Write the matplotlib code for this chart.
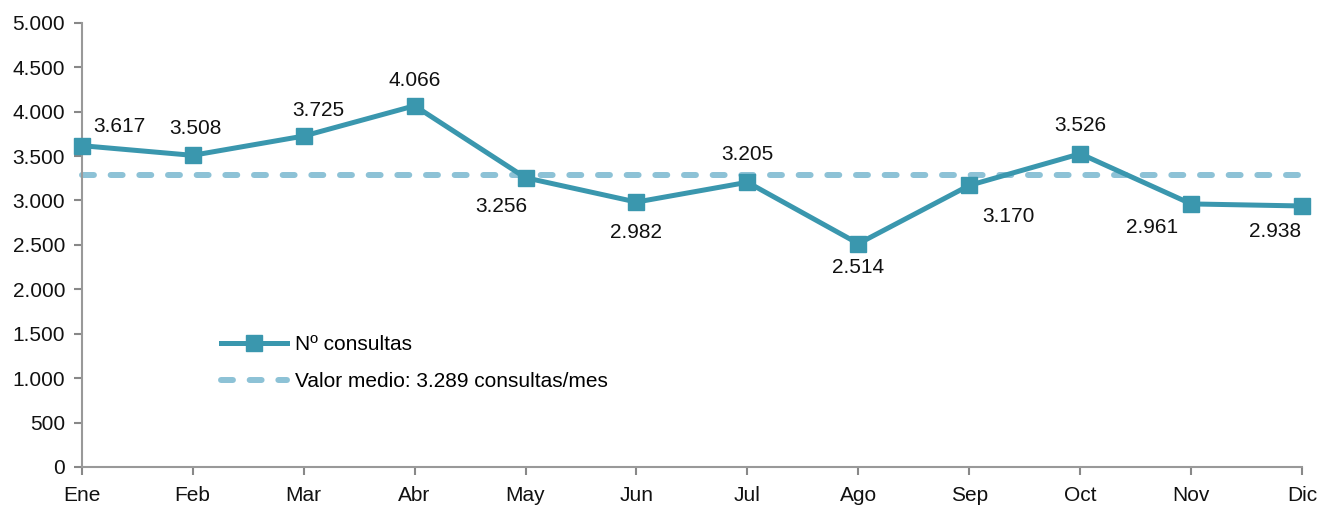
import matplotlib.pyplot as plt
from matplotlib.ticker import FuncFormatter

months = ['Ene', 'Feb', 'Mar', 'Abr', 'May', 'Jun', 'Jul', 'Ago', 'Sep', 'Oct', 'Nov', 'Dic']
consultas = [3617, 3508, 3725, 4066, 3256, 2982, 3205, 2514, 3170, 3526, 2961, 2938]
media = 3289
# label offsets in pixels relative to each point
label_dx = [38, 3, 15, 0, -24, 0, 0, 0, 39, 0, -39, -27]
label_dy = [19, 27, 26, 25, -29, -30, 28, -24, -31, 28, -24, -26]

line_col = '#3a97ae'
mean_col = '#8dc2d6'

plt.rcParams['font.family'] = ['Liberation Sans', 'DejaVu Sans']

fig, ax = plt.subplots(figsize=(13.18, 5.07), dpi=100)
fig.subplots_adjust(left=0.062, right=0.988, top=0.955, bottom=0.079)

x = list(range(len(months)))
ax.plot(x, [media] * len(x), color=mean_col, lw=4.3, dashes=(2.0, 2.8),
        dash_capstyle='round', label='Valor medio: 3.289 consultas/mes',
        zorder=2, clip_on=False)
ax.plot(x, consultas, color=line_col, lw=3.6, marker='s', markersize=11.5,
        label='Nº consultas', zorder=3, clip_on=False)

fmt = lambda v: f'{v:,}'.replace(',', '.')
for i, v in enumerate(consultas):
    ax.annotate(fmt(v), (i, v), xytext=(label_dx[i], label_dy[i]),
                textcoords='offset pixels', ha='center', va='center',
                fontsize=15, color='#111111')

ax.set_xlim(0, len(months) - 1)
ax.set_ylim(0, 5000)
ax.set_yticks(range(0, 5001, 500))
ax.yaxis.set_major_formatter(FuncFormatter(lambda v, p: fmt(int(v))))
ax.set_xticks(x)
ax.set_xticklabels(months)
ax.tick_params(axis='both', colors='#888888', labelcolor='#111111', labelsize=15,
               length=6, width=1.5)
ax.tick_params(axis='y', pad=6)
ax.tick_params(axis='x', pad=8)

for side in ['top', 'right']:
    ax.spines[side].set_visible(False)
for side in ['left', 'bottom']:
    ax.spines[side].set_color('#999999')
    ax.spines[side].set_linewidth(1.5)

h, l = ax.get_legend_handles_labels()
ax.legend(h[::-1], l[::-1], loc='upper left', bbox_to_anchor=(0.107, 0.315), frameon=False,
          fontsize=15, handlelength=3.2, handletextpad=0.35, labelspacing=0.85,
          borderaxespad=0)

fig.savefig('out.png', dpi=100)
